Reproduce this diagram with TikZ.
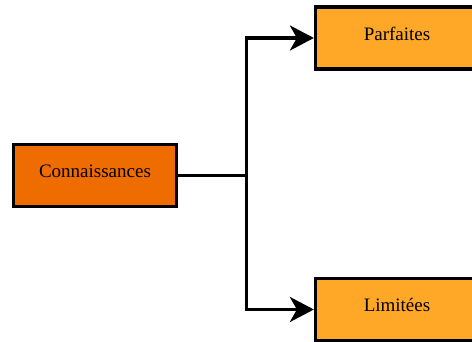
\documentclass[tikz,border=0pt]{standalone}
\usepackage{fontspec}
\setmainfont{Liberation Serif}
\usetikzlibrary{arrows.meta}
\definecolor{rootOrange}{HTML}{EF6C00}
\definecolor{leafOrange}{HTML}{FFA726}
\tikzset{%
  >={Stealth[length=24pt,width=25pt,inset=7pt]},
  % Specifications for style of nodes:
      base/.style = {rectangle, draw=black, line width=3.2pt,
                     minimum width=163pt, minimum height=62pt,
                     text depth=9pt, text centered,
                     font=\fontsize{19}{22}\selectfont},
   rootBox/.style = {base, fill=rootOrange},
   leafBox/.style = {base, fill=leafOrange},
}
\begin{document}
\begin{tikzpicture}[x=1pt, y=-1pt]
  \useasboundingbox (0,0) rectangle (472,342);
  \clip (0,0) rectangle (472,342);
  \node (connaissances) [rootBox] at (95,175.5)  {Connaissances};
  \node (parfaites)     [leafBox] at (397,38)    {Parfaites};
  \node (limitees)      [leafBox] at (397,309.5) {Limitées};
  \coordinate (split) at (246.5,175.5);

  % Specification of lines between nodes specified above
  \draw[line width=3.2pt]     (connaissances.east) -- (split);
  \draw[->, line width=3.2pt] (split) |- (parfaites.west);
  \draw[->, line width=3.2pt] (split) |- (limitees.west);
\end{tikzpicture}
\end{document}
